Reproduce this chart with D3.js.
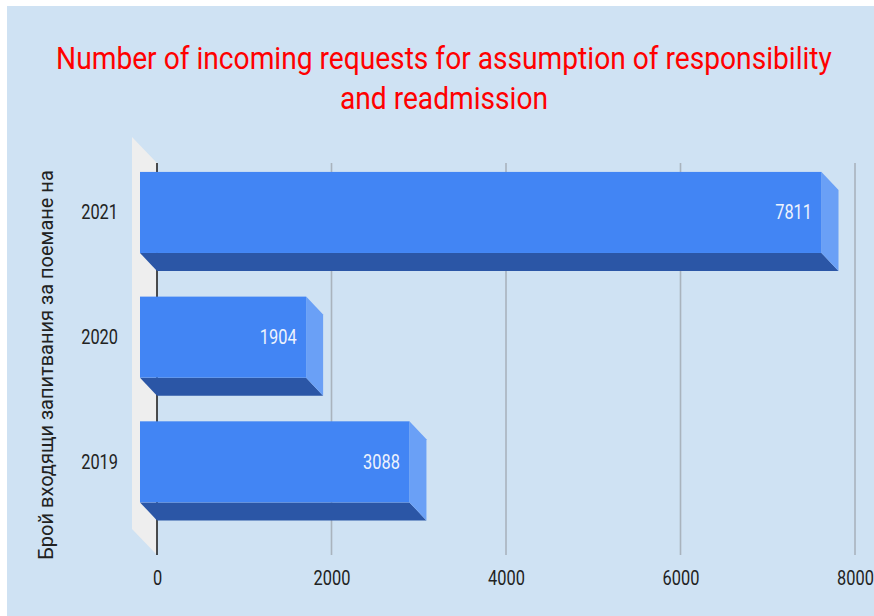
<!DOCTYPE html>
<html>
<head>
<meta charset="utf-8">
<script src="https://cdn.jsdelivr.net/npm/d3@7"></script>
<style>
  html, body { margin: 0; padding: 0; background: #ffffff; }
  svg { display: block; }
  text { font-family: Roboto, "Liberation Sans", Arial, sans-serif; }
</style>
</head>
<body>
<svg id="chart" width="874" height="616"></svg>
<script>
// Chart data
const categories = ["2021", "2020", "2019"];
const values = [7811, 1904, 3088];
const xTicks = [0, 2000, 4000, 6000, 8000];
const titleLines = [
  "Number of incoming requests for assumption of responsibility",
  "and readmission"
];
const yAxisTitle = "Брой входящи запитвания за поемане на";

const svg = d3.select("#chart");
const W = 874, H = 616;

// Panel background
svg.append("rect")
  .attr("x", 7).attr("y", 6)
  .attr("width", W - 7).attr("height", H - 6)
  .attr("fill", "#cfe2f3");

// 3D geometry: back wall plane and depth offsets
const back = { left: 157, right: 855, top: 163, bottom: 555 };
const depth = { dx: 17, dy: 18 };
const wall = { dx: 25, dy: 26 };

const x = d3.scaleLinear().domain([0, 8000]).range([back.left, back.right]);
const y = d3.scaleBand()
  .domain(categories)
  .range([150.1, 524.2])
  .paddingInner(0.35)
  .paddingOuter(0.175);

const condensed = 0.78;

// Left side wall
svg.append("polygon")
  .attr("points", [
    [back.left - wall.dx, back.top - wall.dy],
    [back.left, back.top],
    [back.left, back.bottom],
    [back.left - wall.dx, back.bottom - wall.dy]
  ].map(p => p.join(",")).join(" "))
  .attr("fill", "#eeeeee");

// Gridlines on the back wall
svg.append("g")
  .selectAll("line")
  .data(xTicks.filter(d => d !== 0))
  .join("line")
  .attr("x1", d => x(d)).attr("x2", d => x(d))
  .attr("y1", back.top).attr("y2", back.bottom)
  .attr("stroke", "#a9b3bd")
  .attr("stroke-width", 1.6);

// Zero baseline
svg.append("line")
  .attr("x1", x(0)).attr("x2", x(0))
  .attr("y1", back.top).attr("y2", back.bottom)
  .attr("stroke", "#222222")
  .attr("stroke-width", 1.6);

// Bars: bottom face, side face, front face
const bars = svg.append("g")
  .selectAll("g")
  .data(categories.map((c, i) => ({ c, v: values[i] })))
  .join("g");

const fx0 = () => x(0) - depth.dx;
const fx1 = d => x(d.v) - depth.dx;

bars.append("polygon")
  .attr("points", d => {
    const yb = y(d.c) + y.bandwidth();
    return [
      [fx0(), yb], [fx1(d), yb],
      [fx1(d) + depth.dx, yb + depth.dy], [fx0() + depth.dx, yb + depth.dy]
    ].map(p => p.join(",")).join(" ");
  })
  .attr("fill", "#2b56a6");

bars.append("polygon")
  .attr("points", d => {
    const yt = y(d.c), yb = y(d.c) + y.bandwidth();
    return [
      [fx1(d), yt], [fx1(d) + depth.dx, yt + depth.dy],
      [fx1(d) + depth.dx, yb + depth.dy], [fx1(d), yb]
    ].map(p => p.join(",")).join(" ");
  })
  .attr("fill", "#6aa0f6");

bars.append("rect")
  .attr("x", fx0())
  .attr("y", d => y(d.c))
  .attr("width", d => x(d.v) - x(0))
  .attr("height", y.bandwidth())
  .attr("fill", "#4285f4");

// Value labels inside the front face
bars.append("text")
  .attr("transform", d => `translate(${fx1(d) - 9.5},${y(d.c) + y.bandwidth() / 2}) scale(${condensed},1)`)
  .attr("text-anchor", "end")
  .attr("dominant-baseline", "central")
  .attr("font-size", 21)
  .attr("fill", "#eef3fd")
  .text(d => d.v);

// Category axis
const yAxis = svg.append("g")
  .attr("transform", `translate(${x(0) - depth.dx},0)`)
  .call(d3.axisLeft(y).tickSize(0).tickPadding(0));
yAxis.select(".domain").remove();
yAxis.selectAll("text")
  .attr("x", 0)
  .attr("dy", null)
  .attr("dominant-baseline", "central")
  .attr("transform", `translate(-22,0) scale(${condensed},1)`)
  .attr("font-size", 21)
  .attr("font-family", "Roboto, 'Liberation Sans', sans-serif")
  .attr("fill", "#222222");

// Value axis labels
const xAxis = svg.append("g")
  .attr("transform", `translate(0,${back.bottom})`)
  .call(d3.axisBottom(x).tickValues(xTicks).tickSize(0).tickPadding(0).tickFormat(d3.format("d")));
xAxis.select(".domain").remove();
xAxis.selectAll("text")
  .attr("y", 0)
  .attr("dy", null)
  .attr("dominant-baseline", "central")
  .attr("transform", `translate(0,23) scale(${condensed},1)`)
  .attr("font-size", 21)
  .attr("font-family", "Roboto, 'Liberation Sans', sans-serif")
  .attr("fill", "#222222");

// Rotated axis title
svg.append("text")
  .attr("transform", "translate(46,365) rotate(-90)")
  .attr("text-anchor", "middle")
  .attr("dominant-baseline", "central")
  .attr("font-size", 20)
  .attr("fill", "#222222")
  .text(yAxisTitle);

// Chart title
svg.append("g")
  .selectAll("text")
  .data(titleLines)
  .join("text")
  .attr("transform", (d, i) => `translate(444,${69 + i * 40}) scale(0.88,1)`)
  .attr("text-anchor", "middle")
  .attr("font-size", 32)
  .attr("fill", "#ff0000")
  .text(d => d);
</script>
</body>
</html>
